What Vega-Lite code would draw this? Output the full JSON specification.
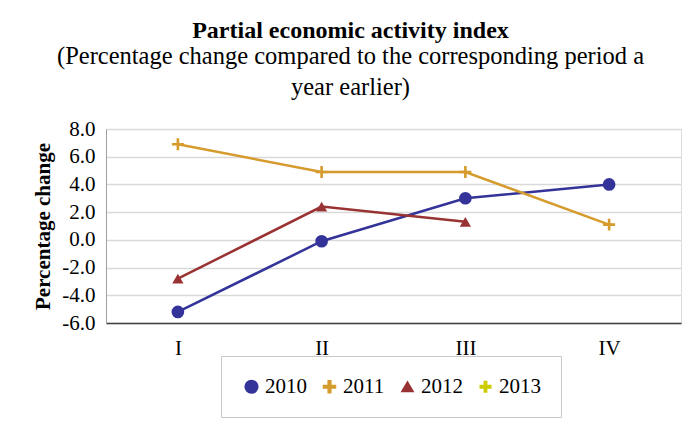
{
  "$schema": "https://vega.github.io/schema/vega-lite/v6.json",
  "width": 575,
  "height": 194,
  "autosize": {"type": "none"},
  "padding": {"left": 106, "top": 129, "right": 16, "bottom": 108},
  "background": "white",
  "title": {
    "text": "Partial economic activity index",
    "subtitle": ["(Percentage change compared to the corresponding period a", "year earlier)"],
    "font": "Liberation Serif",
    "fontSize": 24,
    "fontWeight": "bold",
    "color": "black",
    "subtitleFont": "Liberation Serif",
    "subtitleFontSize": 24.5,
    "subtitleColor": "black",
    "subtitleLineHeight": 31,
    "subtitlePadding": 2,
    "anchor": "middle",
    "dx": -43,
    "offset": 19
  },
  "data": {
    "values": [
      {"q": "I", "year": "2010", "v": -5.2},
      {"q": "II", "year": "2010", "v": -0.1},
      {"q": "III", "year": "2010", "v": 3.0},
      {"q": "IV", "year": "2010", "v": 4.0},
      {"q": "I", "year": "2011", "v": 6.9},
      {"q": "II", "year": "2011", "v": 4.9},
      {"q": "III", "year": "2011", "v": 4.9},
      {"q": "IV", "year": "2011", "v": 1.1},
      {"q": "I", "year": "2012", "v": -2.8},
      {"q": "II", "year": "2012", "v": 2.4},
      {"q": "III", "year": "2012", "v": 1.3}
    ]
  },
  "encoding": {
    "x": {
      "field": "q",
      "type": "ordinal",
      "sort": ["I", "II", "III", "IV"],
      "scale": {"type": "point", "padding": 0.5},
      "axis": {
        "title": null,
        "labelAngle": 0,
        "ticks": false,
        "labelPadding": 14,
        "labelFont": "Liberation Serif",
        "labelFontSize": 21,
        "labelColor": "black",
        "domainColor": "#404040",
        "domainWidth": 1.5,
        "grid": false
      }
    },
    "y": {
      "field": "v",
      "type": "quantitative",
      "scale": {"domain": [-6, 8], "nice": false, "zero": false},
      "axis": {
        "values": [-6, -4, -2, 0, 2, 4, 6, 8],
        "labelExpr": "replace(format(datum.value, '.1f'), '\u2212', '-')",
        "title": "Percentage change",
        "titleFont": "Liberation Serif",
        "titleFontSize": 21,
        "titleFontWeight": "bold",
        "titleColor": "black",
        "titlePadding": 8,
        "labelFont": "Liberation Serif",
        "labelFontSize": 21,
        "labelColor": "black",
        "labelPadding": 11,
        "ticks": false,
        "domainColor": "#a0a0a0",
        "gridColor": "#d9d9d9",
        "gridWidth": 1.3
      }
    },
    "color": {
      "field": "year",
      "type": "nominal",
      "scale": {
        "domain": ["2010", "2011", "2012", "2013"],
        "range": ["#333399", "#D59B2D", "#993333", "#CCCC00"]
      },
      "legend": {
        "title": null,
        "orient": "none",
        "legendX": 115,
        "legendY": 227,
        "direction": "horizontal",
        "strokeColor": "#c8c8c8",
        "fillColor": "white",
        "padding": 20,
        "labelFont": "Liberation Serif",
        "labelFontSize": 21,
        "labelColor": "black",
        "symbolSize": 130,
        "columnPadding": 12,
        "labelOffset": 3
      }
    }
  },
  "layer": [
    {"mark": {"type": "line", "strokeWidth": 2.5}},
    {
      "mark": {"type": "point", "filled": true, "opacity": 1},
      "encoding": {
        "shape": {
          "field": "year",
          "type": "nominal",
          "scale": {
            "domain": ["2010", "2011", "2012", "2013"],
            "range": ["circle", "M-1,-0.22H-0.22V-1H0.22V-0.22H1V0.22H0.22V1H-0.22V0.22H-1Z", "triangle-up", "M-1,-0.22H-0.22V-1H0.22V-0.22H1V0.22H0.22V1H-0.22V0.22H-1Z"]
          }
        },
        "size": {
          "field": "year",
          "type": "nominal",
          "scale": {"domain": ["2010", "2011", "2012", "2013"], "range": [160, 110, 110, 110]},
          "legend": null
        }
      }
    }
  ]
}
